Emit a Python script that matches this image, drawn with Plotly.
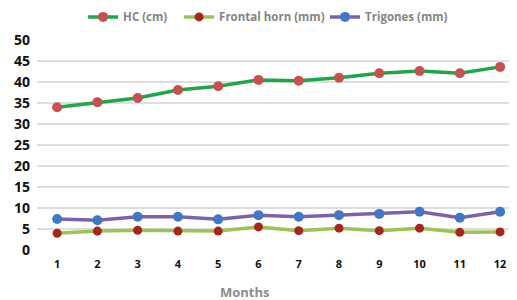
import plotly.graph_objects as go

months = list(range(1, 13))
month_labels = [str(m) for m in months]
hc_cm = [34.0, 35.2, 36.2, 38.1, 39.0, 40.5, 40.3, 41.0, 42.1, 42.6, 42.1, 43.6]
frontal_horn_mm = [4.0, 4.5, 4.7, 4.5, 4.5, 5.5, 4.6, 5.2, 4.6, 5.2, 4.2, 4.3]
trigones_mm = [7.4, 7.1, 7.9, 7.9, 7.3, 8.3, 7.9, 8.3, 8.6, 9.1, 7.7, 9.1]
y_ticks = [0, 5, 10, 15, 20, 25, 30, 35, 40, 45, 50]

fig = go.Figure()
fig.add_trace(go.Scatter(x=months, y=hc_cm, name="HC (cm)", mode="lines+markers",
                         line=dict(color="#22a54a", width=3.5),
                         marker=dict(color="#c9504f", size=10), legend="legend"))
fig.add_trace(go.Scatter(x=months, y=frontal_horn_mm, name="Frontal horn (mm)", mode="lines+markers",
                         line=dict(color="#9cc25a", width=3.5),
                         marker=dict(color="#a8241c", size=9), legend="legend2"))
fig.add_trace(go.Scatter(x=months, y=trigones_mm, name="Trigones (mm)", mode="lines+markers",
                         line=dict(color="#7e62a8", width=3.5),
                         marker=dict(color="#3f78c4", size=10), legend="legend3"))

fig.add_annotation(text="Months", xref="paper", yref="paper", x=0.433, y=-0.2,
                   xanchor="center", yanchor="middle", showarrow=False,
                   font=dict(size=13, color="#8c8c8c", weight="bold"))

leg_common = dict(orientation="h", xanchor="left", y=1.11, yanchor="middle",
                  font=dict(size=11.5, color="#858585", weight="bold"),
                  bgcolor="rgba(0,0,0,0)")

fig.update_layout(
    width=509, height=292,
    showlegend=True,
    margin=dict(l=29, r=0, t=32, b=50, autoexpand=False),
    paper_bgcolor="white", plot_bgcolor="white",
    font=dict(family="Open Sans, DejaVu Sans, sans-serif"),
    legend=dict(x=0.096, **leg_common),
    legend2=dict(x=0.296, **leg_common),
    legend3=dict(x=0.60, **leg_common),
    xaxis=dict(range=[0.5, 12.42], tickmode="array", tickvals=months, ticktext=month_labels,
               showgrid=False, zeroline=False, showline=False, automargin=False,
               tickfont=dict(size=11, color="#111111", weight="bold"), ticklabelstandoff=6),
    yaxis=dict(range=[0, 50], tickmode="array", tickvals=y_ticks, automargin=False,
               showgrid=True, gridcolor="#dedede", gridwidth=2, zeroline=False, showline=False,
               tickfont=dict(size=14, color="#111111", weight="bold"), ticklabelstandoff=6),
)

fig.write_html("out.html")
